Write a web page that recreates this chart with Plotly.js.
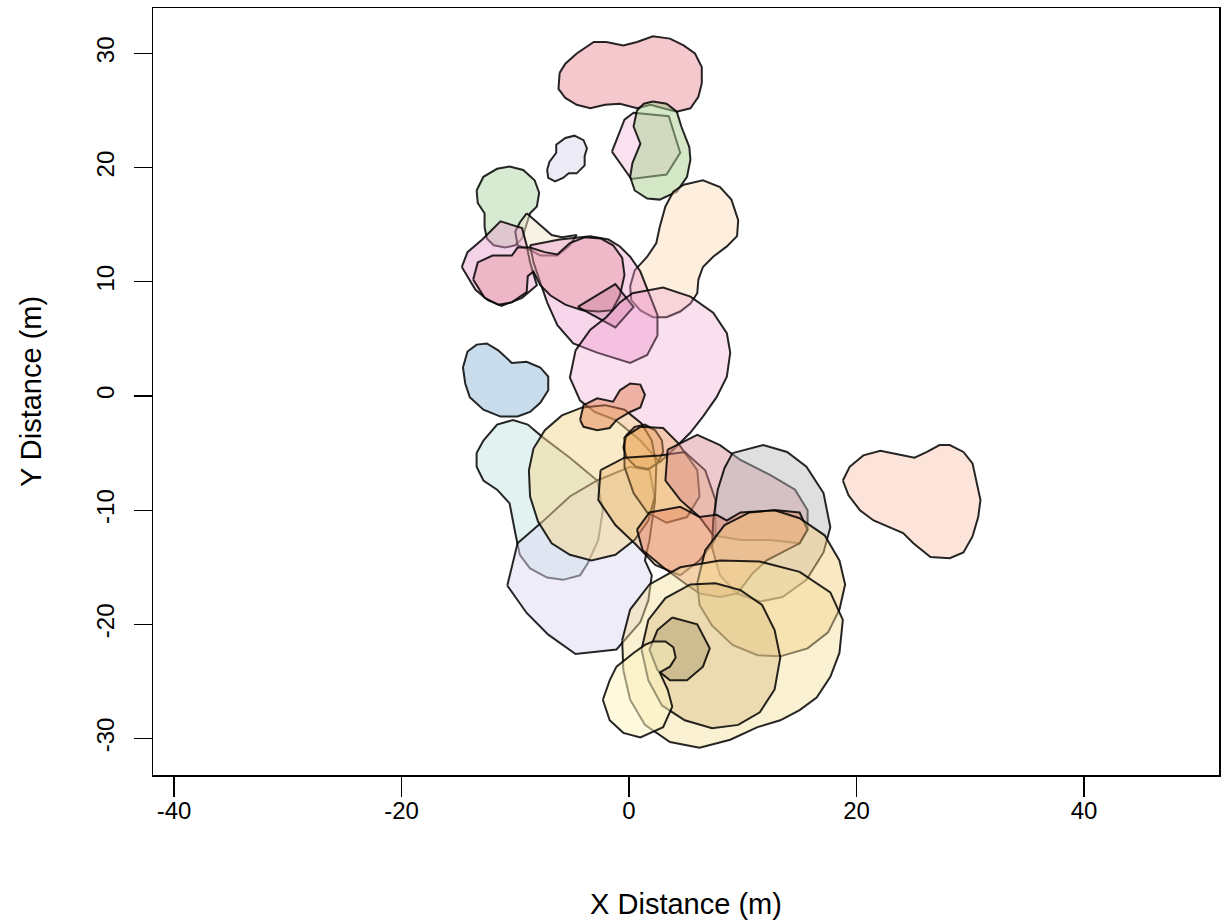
<!DOCTYPE html>
<html>
<head>
<meta charset="utf-8">
<script src="https://cdn.plot.ly/plotly-3.0.1.min.js"></script>
<style>html,body{margin:0;padding:0;background:#fff;}#chart{width:1224px;height:923px;}</style>
</head>
<body>
<div id="chart"></div>
<script>
// ---- polygon vertices (data units, metres) ----
const cloudX = [-6.1,-5.6,-4.6,-3.1,-2.0,-0.5,0.7,2.1,3.6,4.8,5.8,6.4,6.4,6.1,5.4,4.2,3.0,1.9,0.7,-0.8,-2.1,-3.4,-4.6,-5.6,-6.2];
const cloudY = [28.3,29.1,30.0,31.0,31.0,30.7,31.0,31.5,31.3,30.7,30.0,28.8,27.4,26.2,25.2,24.9,25.2,25.5,25.2,25.6,25.5,25.2,25.5,26.1,26.9];
const pinkKiteX = [-1.5,-0.4,0.4,3.5,4.5,3.3,0.2];
const pinkKiteY = [21.4,24.2,24.8,24.5,21.3,19.4,19.0];
const greenOvalX = [2.1,3.3,4.2,4.6,5.3,5.4,5.1,4.2,2.7,1.6,0.5,0.1,0.3,1.0,0.4,0.7,1.3];
const greenOvalY = [25.8,25.6,24.9,23.6,21.8,20.7,19.2,17.9,17.2,17.3,18.0,19.2,20.4,22.1,23.6,25.0,25.6];
const lilacSmallX = [-7.2,-7.0,-6.4,-6.4,-5.6,-4.8,-4.0,-3.7,-3.9,-3.9,-4.6,-5.3,-5.8,-6.5,-7.1];
const lilacSmallY = [19.8,20.5,21.3,22.0,22.6,22.8,22.4,21.7,21.0,20.2,19.5,19.5,19.1,18.8,19.1];
const greenBlobX = [-13.4,-12.8,-11.6,-10.5,-9.3,-8.3,-7.9,-8.1,-8.7,-9.1,-9.4,-10.0,-10.9,-11.9,-12.5,-12.7,-12.7,-13.3];
const greenBlobY = [18.0,19.2,19.9,20.1,19.8,18.9,17.8,16.6,16.0,14.8,13.8,13.2,13.0,13.2,13.8,14.8,16.0,16.9];
const peachTallX = [4.8,6.5,8.0,9.0,9.6,9.5,8.6,7.4,6.5,6.1,6.0,5.4,4.5,3.3,2.1,1.0,0.2,0.1,0.5,1.6,2.4,2.7,3.2,3.9];
const peachTallY = [18.5,18.9,18.3,17.2,15.4,14.0,13.1,12.2,11.3,10.2,9.0,8.1,7.4,6.9,6.9,7.5,8.4,9.6,11.0,12.2,13.4,14.8,16.6,17.9];
const creamX = [-9.0,-7.8,-6.8,-5.9,-4.6,-5.2,-6.3,-7.8,-8.7,-9.8,-10.0,-9.6];
const creamY = [16.0,15.0,14.1,13.9,14.1,13.2,12.3,12.3,12.8,13.2,14.4,15.2];
const pinkOuterX = [-14.7,-14.2,-12.9,-11.3,-9.4,-9.0,-8.7,-8.1,-9.4,-11.2,-12.4,-13.5];
const pinkOuterY = [11.3,12.6,13.7,15.3,14.7,13.2,11.7,9.7,8.6,7.9,8.4,9.3];
const rosyX = [-13.7,-13.3,-12.0,-10.3,-9.8,-8.7,-7.4,-6.3,-5.2,-3.9,-2.5,-1.4,-0.6,-0.4,-0.8,-1.5,-2.7,-4.1,-5.6,-6.9,-7.8,-8.4,-8.9,-9.0,-10.3,-11.5,-12.7];
const rosyY = [10.2,11.7,12.3,12.3,13.0,13.0,12.6,12.4,13.4,13.9,13.8,13.2,12.1,10.6,8.8,7.5,7.4,7.5,8.0,8.8,9.7,10.9,10.5,9.1,8.2,8.0,8.6];
const magentaX = [-8.7,-6.1,-3.4,-1.8,-0.8,0.1,1.0,1.8,2.5,2.5,1.6,0.1,-2.8,-4.9,-6.3,-7.2,-7.8,-8.4];
const magentaY = [13.2,13.7,14.0,13.7,13.1,12.2,10.9,8.8,7.1,5.3,3.6,2.9,3.8,4.6,6.2,8.2,10.0,11.7];
const mauveKiteX = [-4.5,-1.2,0.4,-1.2];
const mauveKiteY = [7.8,9.8,7.8,6.0];
const blushBigX = [-4.7,-3.4,-2.0,-0.8,0.3,3.0,5.4,7.4,8.6,8.9,8.6,7.7,6.5,5.4,4.0,2.7,1.0,-1.2,-3.0,-4.3,-5.2];
const blushBigY = [4.0,5.8,6.9,8.2,9.0,9.5,8.7,7.3,5.5,3.8,1.7,-0.1,-1.8,-3.2,-4.6,-5.8,-3.9,-2.1,-1.4,-0.4,1.6];
const blueX = [-14.6,-14.2,-13.4,-12.5,-11.5,-10.3,-9.0,-7.8,-7.1,-7.1,-7.8,-8.7,-9.8,-11.3,-12.8,-14.0,-14.4];
const blueY = [2.5,3.9,4.5,4.6,4.0,2.9,3.0,2.5,1.7,0.5,-0.6,-1.4,-1.8,-1.8,-1.2,-0.1,1.1];
const mintX = [-13.4,-12.8,-11.6,-10.2,-8.9,-7.6,-5.2,-2.8,-2.3,-2.7,-3.6,-4.3,-5.8,-7.2,-8.7,-9.6,-10.0,-10.5,-11.6,-12.8,-13.4];
const mintY = [-5.0,-3.9,-2.5,-2.1,-2.5,-3.6,-5.4,-7.4,-10.0,-12.6,-14.6,-15.7,-16.1,-15.9,-15.1,-13.9,-12.0,-9.4,-8.2,-7.4,-6.2];
const lilacBigX = [-10.7,-9.8,-7.6,-5.2,-2.8,0.1,1.8,2.3,1.8,1.4,2.0,1.7,1.0,-1.1,-4.7,-7.1,-9.0];
const lilacBigY = [-16.6,-12.9,-11.0,-8.8,-7.4,-6.2,-6.5,-9.1,-12.6,-14.4,-15.7,-17.9,-19.8,-22.2,-22.6,-20.9,-19.0];
const yellowX = [-8.8,-8.4,-7.4,-5.9,-4.1,-2.1,-0.4,1.1,2.0,2.4,2.3,1.7,0.5,-1.2,-3.3,-5.2,-6.8,-8.0,-8.7];
const yellowY = [-6.5,-4.6,-3.0,-1.7,-1.0,-0.8,-1.2,-2.4,-3.9,-6.0,-8.7,-10.9,-12.6,-13.9,-14.4,-13.9,-12.9,-11.0,-8.8];
const salmonX = [-4.3,-4.0,-2.8,-1.4,-0.8,0.1,1.0,1.4,1.0,0.1,-1.1,-1.7,-2.8,-4.0];
const salmonY = [-2.1,-0.8,-0.2,-0.5,0.5,1.1,1.0,0.1,-1.0,-1.4,-2.1,-2.8,-3.0,-2.7];
const ringSmallX = [-0.5,-0.2,0.5,1.4,2.3,2.9,3.0,2.5,1.7,0.6,-0.2];
const ringSmallY = [-4.5,-3.4,-2.7,-2.5,-3.0,-3.9,-4.9,-5.9,-6.4,-6.2,-5.4];
const ringMidX = [-0.4,1.0,3.0,4.3,6.0,6.2,5.1,3.3,1.6,0.4,-0.4];
const ringMidY = [-3.6,-2.7,-2.8,-4.1,-6.5,-8.8,-10.6,-11.1,-10.2,-8.5,-6.2];
const amberX = [-2.5,-0.4,2.7,4.9,6.7,7.6,7.6,6.2,4.5,2.3,0.6,-1.2,-2.7];
const amberY = [-6.5,-5.4,-5.2,-4.9,-6.5,-9.1,-12.6,-14.4,-15.7,-14.8,-13.0,-11.3,-9.1];
const roseX = [3.4,6.0,8.0,9.8,12.4,14.6,15.7,15.7,15.0,12.4,9.8,7.4,6.2,4.5,3.2];
const roseY = [-4.7,-3.4,-4.3,-5.6,-6.9,-8.2,-10.0,-11.7,-12.9,-12.6,-12.6,-12.2,-10.6,-9.1,-7.4];
const greyX = [9.1,11.8,13.9,15.6,17.1,17.7,17.1,15.6,13.5,11.5,9.5,8.0,7.3,7.4,7.8,8.4];
const greyY = [-5.0,-4.3,-4.9,-6.2,-8.5,-11.5,-13.7,-16.1,-17.6,-18.0,-17.3,-15.7,-13.3,-10.9,-8.2,-6.3];
const rustX = [0.7,1.8,4.5,6.2,7.7,8.6,9.8,13.0,15.0,15.7,15.0,13.5,12.1,10.9,9.5,8.0,6.2,4.9,3.0,1.2];
const rustY = [-11.7,-10.2,-9.7,-10.6,-10.4,-10.9,-10.2,-10.0,-10.2,-11.7,-12.9,-13.7,-14.4,-15.5,-17.3,-17.6,-17.3,-16.4,-15.0,-13.5];
const goldX = [6.0,6.7,8.4,10.6,12.8,15.0,17.2,18.5,19.0,18.5,17.5,15.7,13.3,11.3,9.1,7.3,6.2];
const goldY = [-16.4,-13.5,-11.3,-10.2,-10.0,-10.7,-12.2,-14.4,-16.5,-18.7,-20.7,-22.1,-22.8,-22.7,-21.8,-20.1,-18.3];
const wheatX = [-0.6,0.1,1.8,4.5,8.0,11.5,15.0,17.7,18.8,18.5,17.7,16.5,15.0,13.3,11.3,8.9,6.2,3.6,1.4,0.1,-0.5];
const wheatY = [-21.4,-18.7,-16.5,-15.0,-14.4,-14.5,-15.4,-17.2,-19.6,-22.5,-24.6,-26.4,-27.5,-28.4,-29.0,-30.1,-30.8,-30.3,-28.8,-26.6,-24.0];
const tanX = [1.1,1.7,3.2,5.4,7.6,9.8,11.7,12.8,13.3,12.8,11.5,9.6,7.3,4.9,2.9,1.7];
const tanY = [-22.2,-19.6,-17.7,-16.5,-16.4,-17.0,-18.3,-20.5,-22.9,-25.7,-27.7,-28.8,-29.1,-28.4,-27.1,-24.9];
const octX = [3.8,6.0,7.1,6.5,5.1,3.6,2.5,1.8,2.5];
const octY = [-19.4,-20.0,-22.1,-23.7,-24.9,-24.9,-24.0,-22.2,-20.5];
const ivoryX = [-2.3,-1.7,-1.1,0.4,1.4,2.1,3.2,3.9,4.1,3.6,2.7,3.4,3.8,3.0,1.0,-0.5,-1.7];
const ivoryY = [-26.6,-24.9,-23.7,-22.5,-21.8,-21.5,-21.5,-22.0,-22.9,-23.7,-24.2,-25.7,-27.2,-29.0,-29.9,-29.5,-28.4];
const peachEastX = [18.8,19.4,20.6,22.1,23.6,25.1,26.2,27.3,28.2,29.4,30.2,30.6,30.9,30.7,30.2,29.4,28.2,26.5,25.0,24.1,22.9,21.5,20.3,19.3];
const peachEastY = [-7.4,-6.2,-5.2,-4.8,-5.1,-5.4,-4.9,-4.3,-4.3,-4.9,-5.9,-7.6,-9.1,-10.6,-12.3,-13.7,-14.2,-14.1,-12.9,-12.0,-11.5,-10.9,-10.0,-8.7];

const xTicks = [-40,-20,0,20,40];
const yTicks = [-30,-20,-10,0,10,20,30];

// ---- drawing ----
const polys = [
  [cloudX, cloudY, 'rgba(235,145,155,0.5)'],
  [pinkKiteX, pinkKiteY, 'rgba(245,195,225,0.5)'],
  [greenOvalX, greenOvalY, 'rgba(169,209,145,0.5)'],
  [lilacSmallX, lilacSmallY, 'rgba(217,213,233,0.5)'],
  [greenBlobX, greenBlobY, 'rgba(175,215,165,0.5)'],
  [peachTallX, peachTallY, 'rgba(251,221,189,0.5)'],
  [creamX, creamY, 'rgba(241,229,201,0.5)'],
  [pinkOuterX, pinkOuterY, 'rgba(231,155,201,0.45)'],
  [magentaX, magentaY, 'rgba(235,150,205,0.4)'],
  [rosyX, rosyY, 'rgba(228,150,160,0.45)'],
  [mauveKiteX, mauveKiteY, 'rgba(195,115,145,0.35)'],
  [blushBigX, blushBigY, 'rgba(240,150,200,0.3)'],
  [blueX, blueY, 'rgba(145,185,215,0.5)'],
  [mintX, mintY, 'rgba(195,229,225,0.5)'],
  [lilacBigX, lilacBigY, 'rgba(221,217,241,0.5)'],
  [yellowX, yellowY, 'rgba(245,215,145,0.5)'],
  [salmonX, salmonY, 'rgba(225,125,75,0.45)'],
  [ringSmallX, ringSmallY, 'rgba(225,145,65,0.35)'],
  [ringMidX, ringMidY, 'rgba(235,165,85,0.4)'],
  [amberX, amberY, 'rgba(235,175,95,0.35)'],
  [roseX, roseY, 'rgba(215,135,145,0.45)'],
  [greyX, greyY, 'rgba(185,185,185,0.45)'],
  [rustX, rustY, 'rgba(230,130,100,0.45)'],
  [goldX, goldY, 'rgba(245,205,125,0.45)'],
  [wheatX, wheatY, 'rgba(245,221,155,0.45)'],
  [tanX, tanY, 'rgba(215,185,125,0.4)'],
  [octX, octY, 'rgba(160,145,100,0.4)'],
  [ivoryX, ivoryY, 'rgba(255,245,195,0.55)'],
  [peachEastX, peachEastY, 'rgba(249,201,181,0.5)']
];

const traces = polys.map(p => ({
  type: 'scatter', mode: 'lines',
  x: p[0].concat([p[0][0]]), y: p[1].concat([p[1][0]]),
  fill: 'toself', fillcolor: p[2],
  line: {color: 'rgba(0,0,0,0.85)', width: 2},
  hoverinfo: 'skip', showlegend: false
}));

const font = {family: 'Liberation Sans, Arial, Helvetica, sans-serif', color: '#000'};
const layout = {
  width: 1224, height: 923,
  margin: {l: 153, r: 5, t: 8, b: 148},
  paper_bgcolor: '#fff', plot_bgcolor: '#fff',
  showlegend: false,
  xaxis: {
    range: [-41.85, 51.87], showgrid: false, zeroline: false,
    showline: true, mirror: true, linecolor: '#000', linewidth: 1.5,
    ticks: 'outside', ticklen: 20, tickwidth: 1.3, tickcolor: '#000',
    tickvals: xTicks, ticktext: xTicks.map(String), ticklabelstandoff: -6,
    tickfont: Object.assign({size: 24}, font),
    title: {text: 'X Distance (m)', font: Object.assign({size: 29}, font), standoff: 70}
  },
  yaxis: {
    range: [-33.19, 33.98], showgrid: false, zeroline: false,
    showline: true, mirror: true, linecolor: '#000', linewidth: 1.5,
    ticks: 'outside', ticklen: 18, tickwidth: 1.3, tickcolor: '#000',
    tickvals: yTicks, ticktext: yTicks.map(String), tickangle: -90, ticklabelstandoff: 10,
    tickfont: Object.assign({size: 24}, font),
    title: {text: 'Y Distance (m)', font: Object.assign({size: 29}, font), standoff: 42}
  }
};
Plotly.newPlot('chart', traces, layout, {staticPlot: true, displayModeBar: false});
</script>
</body>
</html>
